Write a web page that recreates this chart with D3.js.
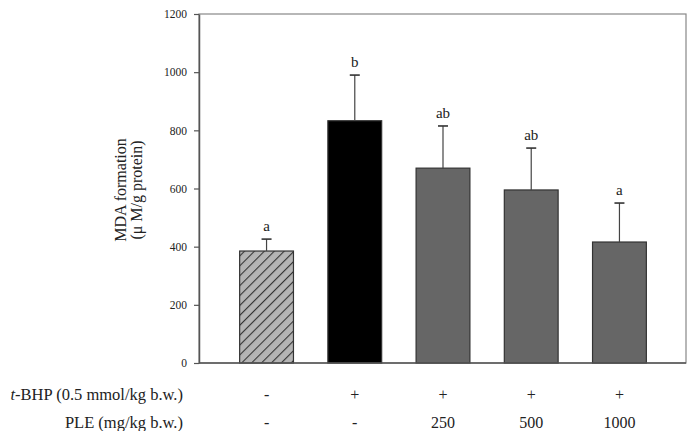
<!DOCTYPE html>
<head>
  <meta charset="utf-8">
  <script src="https://d3js.org/d3.v7.min.js"></script>
  <style>
    body { margin: 0; background: #fff; }
    text { font-family: "Liberation Serif", "Times New Roman", serif; fill: #222; }
  </style>
</head>
<body>
  <div id="graph"></div>
  <script>
    // data
    var groups = ["ctrl", "tbhp", "ple250", "ple500", "ple1000"];
    var means = [385, 833, 670, 595, 416];
    var upperErr = [426, 990, 815, 739, 550];
    var letters = ["a", "b", "ab", "ab", "a"];
    var tbhpRow = ["-", "+", "+", "+", "+"];
    var pleRow = ["-", "-", "250", "500", "1000"];
    var yTicks = [0, 200, 400, 600, 800, 1000, 1200];

    var width = 697, height = 431;
    var xmin = 199, xmax = 686, ymin = 14, ymax = 363;

    var svg = d3.select("#graph").append("svg")
      .attr("width", width)
      .attr("height", height);

    var defs = svg.append("defs");
    var pat = defs.append("pattern")
      .attr("id", "hatch")
      .attr("patternUnits", "userSpaceOnUse")
      .attr("width", 7).attr("height", 7)
      .attr("patternTransform", "rotate(45)");
    pat.append("rect").attr("width", 7).attr("height", 7).attr("fill", "#b4b4b4");
    pat.append("line").attr("x1", 0).attr("y1", 0).attr("x2", 0).attr("y2", 7)
      .attr("stroke", "#333").attr("stroke-width", 2.2);

    var y = d3.scaleLinear().domain([0, 1200]).range([ymax, ymin]);
    var x = d3.scaleBand().domain(groups).range([222, 664]).paddingInner(0.39).paddingOuter(0.2);

    var fills = ["url(#hatch)", "#000", "#666", "#666", "#666"];

    // frame
    svg.append("rect")
      .attr("x", xmin).attr("y", ymin)
      .attr("width", xmax - xmin).attr("height", ymax - ymin)
      .attr("fill", "none").attr("stroke", "#888").attr("stroke-width", 1.2);

    // bars
    svg.selectAll(".bar").data(groups).enter()
      .append("rect")
      .attr("class", "bar")
      .attr("x", d => x(d))
      .attr("y", (d, i) => y(means[i]))
      .attr("width", x.bandwidth())
      .attr("height", (d, i) => y(0) - y(means[i]))
      .attr("fill", (d, i) => fills[i])
      .attr("stroke", "#333").attr("stroke-width", 1.2);

    // error bars (upper only)
    var eb = svg.selectAll(".err").data(groups).enter().append("g").attr("class", "err");
    eb.append("line")
      .attr("x1", d => x(d) + x.bandwidth() / 2).attr("x2", d => x(d) + x.bandwidth() / 2)
      .attr("y1", (d, i) => y(means[i])).attr("y2", (d, i) => y(upperErr[i]))
      .attr("stroke", "#444").attr("stroke-width", 1.2);
    eb.append("line")
      .attr("x1", d => x(d) + x.bandwidth() / 2 - 5).attr("x2", d => x(d) + x.bandwidth() / 2 + 5)
      .attr("y1", (d, i) => y(upperErr[i])).attr("y2", (d, i) => y(upperErr[i]))
      .attr("stroke", "#333").attr("stroke-width", 1.6);
    eb.append("text")
      .attr("x", d => x(d) + x.bandwidth() / 2)
      .attr("y", (d, i) => y(upperErr[i]) - 8)
      .attr("text-anchor", "middle")
      .attr("font-size", 15)
      .text((d, i) => letters[i]);

    // y axis
    var yAxis = d3.axisLeft(y).tickValues(yTicks).tickSize(5).tickSizeOuter(0).tickFormat(d3.format("d"));
    var gy = svg.append("g")
      .attr("transform", "translate(" + xmin + ",0)")
      .call(yAxis);
    gy.select(".domain").attr("stroke", "#555").attr("stroke-width", 1.5);
    gy.selectAll(".tick line").attr("stroke", "#555").attr("stroke-width", 1.2);
    gy.selectAll(".tick text").attr("font-size", 11.5).attr("x", -12)
      .style("font-family", "Liberation Serif, serif").attr("fill", "#222");

    // bottom axis line
    svg.append("line")
      .attr("x1", xmin).attr("x2", xmax).attr("y1", ymax).attr("y2", ymax)
      .attr("stroke", "#555").attr("stroke-width", 1.5);

    // y axis title
    var yt = svg.append("text")
      .attr("transform", "translate(126,190) rotate(-90)")
      .attr("text-anchor", "middle")
      .attr("font-size", 16);
    yt.append("tspan").attr("x", 0).attr("dy", 0).text("MDA formation");
    yt.append("tspan").attr("x", 0).attr("dy", 16).text("(\u03bc M/g protein)");

    // treatment rows
    var r1 = svg.append("text").attr("x", 183).attr("y", 400)
      .attr("text-anchor", "end").attr("font-size", 16.5);
    r1.append("tspan").attr("font-style", "italic").text("t");
    r1.append("tspan").text("-BHP (0.5 mmol/kg b.w.)");
    svg.append("text").attr("x", 183).attr("y", 428)
      .attr("text-anchor", "end").attr("font-size", 16.5)
      .text("PLE (mg/kg b.w.)");

    svg.selectAll(".row1").data(groups).enter().append("text")
      .attr("x", d => x(d) + x.bandwidth() / 2).attr("y", 400)
      .attr("text-anchor", "middle").attr("font-size", 16)
      .text((d, i) => tbhpRow[i]);
    svg.selectAll(".row2").data(groups).enter().append("text")
      .attr("x", d => x(d) + x.bandwidth() / 2).attr("y", 428)
      .attr("text-anchor", "middle").attr("font-size", 16)
      .text((d, i) => pleRow[i]);
  </script>
</body>
